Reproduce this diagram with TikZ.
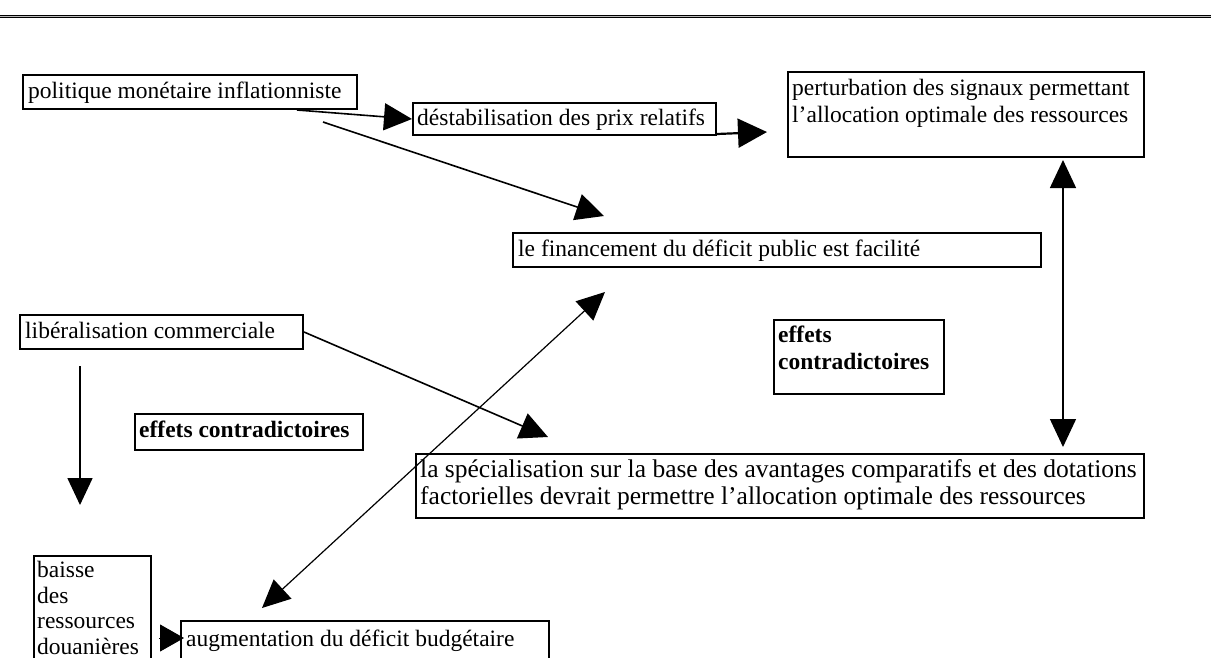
\documentclass[tikz,border=0pt]{standalone}
\usepackage{fontspec}
\setmainfont{Liberation Serif}
\usetikzlibrary{arrows.meta}
\begin{document}
\begin{tikzpicture}[x=1pt,y=-1pt,
  box/.style={draw, line width=2pt, rectangle, inner sep=0pt, anchor=north west},
  txt/.style={anchor=base west, inner sep=0pt, font=\fontsize{23.5}{26.5}\selectfont, align=left},
  btxt/.style={txt, font=\fontsize{23.5}{26.5}\selectfont\bfseries},
  con/.style={line width=1.6pt, -{Triangle[length=28pt,width=27pt]}},
  dcon/.style={line width=1.4pt, {Triangle[length=28pt,width=26pt]}-{Triangle[length=28pt,width=26pt]}},
]
\useasboundingbox (0,0) rectangle (1211,657);
\clip (0,0) rectangle (1211,657);
% top rule
\draw[line width=1.4pt, double=gray!55, double distance=0.8pt] (0,16.3) -- (1211,16.3);
% boxes (multi-line texts are anchored at the baseline of their last line)
\node[box, minimum width=334pt, minimum height=34pt] (A) at (22,74) {};
\node[txt] (tA) at ([shift={(6,24.5)}]A.north west) {politique monétaire inflationniste};
\node[box, minimum width=303pt, minimum height=32pt] (B) at (412,102) {};
\node[txt] (tB) at ([shift={(5,23.5)}]B.north west) {déstabilisation des prix relatifs};
\node[box, minimum width=356pt, minimum height=85pt] (C) at (787,71) {};
\node[txt] (tC) at ([shift={(5,51)}]C.north west) {perturbation des signaux permettant\\l’allocation optimale des ressources};
\node[box, minimum width=528pt, minimum height=34pt] (F) at (512,232) {};
\node[txt] (tF) at ([shift={(6,24.5)}]F.north west) {le financement du déficit public est facilité};
\node[box, minimum width=283pt, minimum height=34pt] (D) at (19,314) {};
\node[txt] (tD) at ([shift={(6,24.5)}]D.north west) {libéralisation commerciale};
\node[box, minimum width=228pt, minimum height=36pt] (E1) at (134,413) {};
\node[btxt] (tE1) at ([shift={(5,24)}]E1.north west) {effets contradictoires};
\node[box, minimum width=170pt, minimum height=74pt] (E2) at (773,319) {};
\node[btxt] (tE2) at ([shift={(5,50)}]E2.north west) {effets\\contradictoires};
\node[box, minimum width=728pt, minimum height=64pt] (G) at (415,453) {};
\node[txt, font=\fontsize{25.5}{27}\selectfont] (tG) at ([shift={(5,51)}]G.north west) {la spécialisation sur la base des avantages comparatifs et des dotations\\factorielles devrait permettre l’allocation optimale des ressources};
\node[box, minimum width=117pt, minimum height=140pt] (H) at (33,555) {};
\node[txt, font=\fontsize{23.5}{25.5}\selectfont] (tH) at ([shift={(4,99)}]H.north west) {baisse\\des\\ressources\\douanières};
\node[box, minimum width=368pt, minimum height=70pt] (I) at (180,620) {};
\node[txt] (tI) at ([shift={(6,26)}]I.north west) {augmentation du déficit budgétaire};
% free ends
\coordinate (a2) at (323,122);
\coordinate (f1) at (604,216);
\coordinate (c1) at (767,132);
\coordinate (g1) at (548,437);
\coordinate (d1) at (80,366);
\coordinate (h1) at (80,505);
\coordinate (f2) at (605,292);
\coordinate (i1) at (262,608);
\coordinate (c2) at (1063,160);
\coordinate (g2) at (1063,447);
\coordinate (h2) at (159,638);
\coordinate (i2) at (184,638);
% connectors
\draw[con] ([xshift=275pt]A.south west) -- (B.west);
\draw[con] (a2) -- (f1);
\draw[con, line width=2.2pt, -{Triangle[length=29pt,width=29pt]}] ([yshift=2pt]B.south east) -- (c1);
\draw[con] (D.east) -- (g1);
\draw[con, -{Triangle[length=27pt,width=25pt]}] (d1) -- (h1);
\draw[dcon, line width=1.2pt] (f2) -- (i1);
\draw[dcon] (c2) -- (g2);
\draw[line width=1pt, -{Triangle[length=24pt,width=27pt]}] (h2) -- (i2);
\end{tikzpicture}
\end{document}
